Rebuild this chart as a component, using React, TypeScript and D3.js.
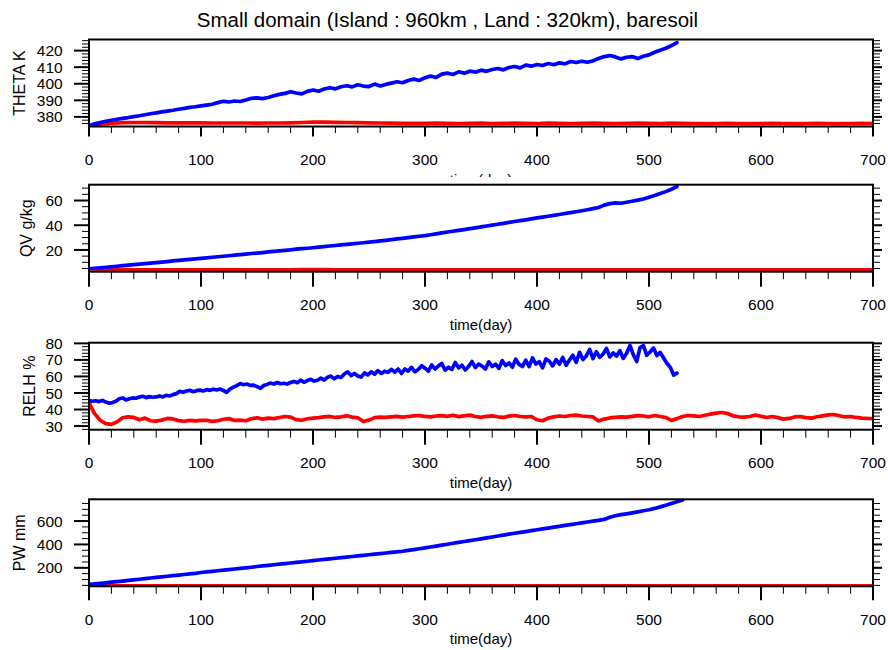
import React from "react";
import * as d3 from "d3";

// ---------- data ----------
const xTicks = [0, 100, 200, 300, 400, 500, 600, 700];
const thetaTicks = [380, 390, 400, 410, 420];
const qvTicks = [20, 40, 60];
const relhTicks = [30, 40, 50, 60, 70, 80];
const pwTicks = [200, 400, 600];

// THETA (K), blue every 5 days 0..525, red every 10 days 0..700
const thetaBlue = [374.5,375.8,376.6,377.4,378,378.6,379.1,379.6,380.2,380.7,381.3,381.9,382.4,383,383.5,384,384.6,385.1,385.7,386.1,386.6,387.1,387.6,388.6,389.4,389,389.6,389.3,390.2,391.2,391.5,391,391.7,392.8,393.6,394.2,395.2,394.4,393.9,395.4,396.2,395.5,396.8,397.6,396.9,398.2,398.8,398.1,399.4,398.6,398.3,399.8,398.6,399.6,400.4,401.2,400.6,402,402.8,402,403.6,404.6,403.8,405.8,406.4,405.6,407.2,406.4,407.6,407,408.2,407.5,408.6,409.2,408.4,409.8,410.4,409.6,411.2,410.6,411.6,411,412.2,411.5,412.6,412,413.4,412.8,413.6,413,413.8,415.2,416.4,417,416.2,415,416,416.4,415.2,416.6,417.4,419,420.2,421.4,423,424.8];
const thetaRed = [374.5,375.6,376.2,376.5,376.6,376.6,376.5,376.4,376.4,376.4,376.4,376.3,376.3,376.3,376.3,376.2,376.3,376.3,376.4,376.6,376.8,376.8,376.7,376.6,376.5,376.4,376.3,376.2,376.1,376.1,376.1,376.2,376.1,376,376.1,376.2,376,376.1,376.2,376.1,376,376.2,376.1,376,376.1,376.2,376.1,376,376.1,376.2,376.1,376,376.2,376.1,376,375.9,376,376.1,376,375.9,376,376.1,376,375.9,376,376.1,376,375.9,376,376.1,376];

// QV (g/kg)
const qvBlue = [4.8,5.2,5.6,6.0,6.4,6.8,7.3,7.7,8.1,8.5,8.9,9.4,9.8,10.2,10.6,11.1,11.5,11.9,12.4,12.8,13.2,13.6,14.1,14.5,14.9,15.3,15.8,16.2,16.6,17.1,17.5,17.9,18.4,18.8,19.3,19.7,20.1,20.6,21.0,21.4,21.8,22.3,22.7,23.2,23.6,24.1,24.5,24.9,25.4,25.8,26.3,26.8,27.3,27.8,28.4,28.9,29.4,30.0,30.6,31.1,31.6,32.3,33.0,33.8,34.5,35.1,35.8,36.5,37.2,37.9,38.7,39.4,40.1,40.8,41.5,42.3,43.0,43.7,44.4,45.1,45.9,46.6,47.3,48.0,48.7,49.5,50.2,50.9,51.7,52.5,53.4,54.4,56.3,57.5,58.1,57.8,58.6,59.4,60.3,61.2,62.6,64.0,65.6,67.2,69.1,71.3];
const qvRed = [4.8,4.3,4.1,4.0,3.9,3.9,3.9,3.8,3.8,3.9,3.9,3.8,3.8,3.9,3.9,3.8,3.9,3.9,3.9,4.0,4.0,4.0,3.9,3.9,3.9,3.9,3.9,3.9,3.8,3.9,3.9,3.9,3.9,3.8,3.9,3.9,3.9,3.9,3.9,3.9,3.9,3.9,3.9,3.8,3.9,3.9,3.8,3.9,3.9,3.9,3.9,3.9,3.9,3.9,3.8,3.8,3.9,3.9,3.9,3.9,3.8,3.9,3.9,3.8,3.9,3.9,3.9,3.8,3.9,3.9,3.9];

// RELH (%), blue every 3 days 0..525, red every 5 days 0..700
const relhBlue = [45.5,45,45.3,44.8,45.5,44.5,43.8,44.2,45,46.5,47,45.8,46.5,47,46.8,47.5,48,47.2,47.8,47.4,47.6,48.2,47.6,48.6,48.2,49,49.6,51,50.4,51.2,51.6,50.8,51.4,51.7,51.2,52,51.6,52.3,51.8,52.4,51.5,50.4,52.5,53.5,54.5,55.7,55,55.4,54.6,54.8,53.8,52.8,54.5,55.2,56,55.4,56.3,55.6,55.9,55.4,56.3,57,56.2,57.8,56.5,57.5,58.3,57.2,57.7,59,57.8,59.5,60.2,58.6,60,59.4,61.5,62.8,60.5,61.8,60.3,59.6,62.2,61,62.8,61.4,63.5,61.8,63.2,62.5,64.3,62.6,64.5,
  61.8,64.5,63.2,65.5,62.8,64.2,66.5,65,63.2,67,64.5,66.4,67.8,63.8,65.6,64.2,68.4,65.2,66.8,63.9,66.1,69,65.4,67.5,66.2,64.5,68.8,66,67.4,64.9,69.5,66.6,68.2,65.6,70.4,67.3,66,69.8,65.9,71.2,67.5,68.9,65.2,70.6,69.2,66.4,70.1,67.4,71.5,66.8,69.9,72.8,68.5,74.6,70.2,72.4,76.3,70.8,74.9,71.6,73.5,77,71.8,74.2,72.3,75.6,70.9,74,78.8,73.2,69,77.4,78.6,72.8,74.8,77.2,72.6,74.5,71.2,68,65.5,60.8,62];
const relhRed = [44,37.5,33.5,31.5,31,32.5,35,35.6,35.2,33.8,34.8,33.2,33,33.6,34.6,34.3,33.3,32.9,33.4,33.1,33.4,33.5,32.8,33.2,34.1,34.5,33.4,33.6,33.2,34.4,35,34.2,34.8,34.5,35.2,35.8,35.4,33.9,33.5,34.4,34.8,35.1,35.6,35.8,35.2,35.6,36.2,35.4,35,32.8,33.6,35.1,35.4,35.2,35.6,35.9,35.4,35.8,36.2,36.4,35.8,35.6,36.1,36.3,35.9,36.5,35.7,36.2,36.6,35.8,35.3,35.9,36.2,35.6,35.2,36,36.4,35.8,35.5,35.8,33.8,33.2,34.8,35.6,36.1,35.8,36.4,36.6,36.1,35.8,35.5,33.1,34.2,34.9,35.3,35.6,35.4,35.9,36.3,36.1,35.6,36.4,35.8,35.2,33.4,34.5,35.8,36.4,36.2,35.8,36.5,37.2,37.8,38.2,37.6,36.2,35.6,35.4,35.8,36.6,35.9,35.2,35.8,35.1,34.2,34.6,35.5,35.8,35.1,34.8,35.6,36.2,36.8,37,36.2,35.5,35.8,35.2,34.8,34.6,34.5];

// PW (mm)
const pwBlue = [57,62,67,72,77,82,87,92,97,102,108,113,118,123,128,133,138,143,148,153,160,165,170,175,180,185,190,195,200,205,211,216,221,226,231,236,241,246,251,256,262,267,272,277,282,287,292,297,302,307,312,317,322,327,332,337,342,349,356,363,370,378,386,394,402,410,418,425,432,440,448,456,464,472,480,488,496,503,510,518,526,533,540,548,555,563,570,577,585,592,599,606,614,632,645,655,662,670,679,688,697,708,721,735,750,765,781];
const pwRed = [57,50,47,46,45,45,45,45,45,45,45,45,45,45,45,45,45,45,45,46,46,46,45,45,45,45,45,45,45,45,45,45,45,45,45,45,45,45,45,45,45,45,45,45,45,45,45,45,45,45,45,45,45,45,45,45,45,45,45,45,45,45,45,45,45,45,45,45,45,45,45];

// ---------- layout ----------
const W = 888;
const H = 650;
const X0 = 89;
const X1 = 873;
const PH = 87;
const FONT = "'Liberation Sans', Arial, Helvetica, sans-serif";

type PanelCfg = {
  id: string;
  label: string;
  domain: [number, number];
  top: number;
  majors: number[];
  minorStep: number;
  minorStart: number;
  blue: number[];
  blueStep: number;
  red: number[];
  redStep: number;
  xMajorLen: number;
  xMinorLen: number;
  ylabelX: number;
  clipXLabel: boolean;
};

const panels: PanelCfg[] = [
  { id: "p1", label: "THETA K", domain: [374.2, 426.7], top: 39.5, majors: thetaTicks, minorStep: 2, minorStart: 376, blue: thetaBlue, blueStep: 5, red: thetaRed, redStep: 10, xMajorLen: 10, xMinorLen: 6.5, ylabelX: 25, clipXLabel: true },
  { id: "p2", label: "QV g/kg", domain: [2.4, 72.8], top: 184.7, majors: qvTicks, minorStep: 5, minorStart: 5, blue: qvBlue, blueStep: 5, red: qvRed, redStep: 10, xMajorLen: 15, xMinorLen: 7.5, ylabelX: 32, clipXLabel: false },
  { id: "p3", label: "RELH %", domain: [27.8, 80.4], top: 342.7, majors: relhTicks, minorStep: 2, minorStart: 28, blue: relhBlue, blueStep: 3, red: relhRed, redStep: 5, xMajorLen: 15, xMinorLen: 8, ylabelX: 35, clipXLabel: false },
  { id: "p4", label: "PW mm", domain: [42, 786], top: 499.3, majors: pwTicks, minorStep: 50, minorStart: 50, blue: pwBlue, blueStep: 5, red: pwRed, redStep: 10, xMajorLen: 14, xMinorLen: 7.5, ylabelX: 25, clipXLabel: false },
];

function Panel({ cfg }: { cfg: PanelCfg }) {
  const x = d3.scaleLinear().domain([0, 700]).range([X0, X1]);
  const y = d3.scaleLinear().domain(cfg.domain).range([cfg.top + PH, cfg.top]);
  const bottom = cfg.top + PH;
  const mkLine = (step: number) =>
    d3.line<number>().x((_, i) => x(i * step)).y((d) => y(d));
  const xMinors = d3.range(0, 701, 20).filter((v) => v % 100 !== 0);
  const yMinors = d3
    .range(cfg.minorStart, cfg.domain[1], cfg.minorStep)
    .filter((v) => v >= cfg.domain[0] && !cfg.majors.includes(v));
  const clipId = `clip-${cfg.id}`;
  const lblClip = `lbl-${cfg.id}`;
  return (
    <g>
      <defs>
        <clipPath id={clipId}>
          <rect x={X0} y={cfg.top} width={X1 - X0} height={PH} />
        </clipPath>
        <clipPath id={lblClip}>
          <rect x={0} y={0} width={W} height={bottom + 50.5} />
        </clipPath>
      </defs>
      {yMinors.map((v) => (
        <g key={`ym${v}`}>
          <line x1={X0 - 7} x2={X0} y1={y(v)} y2={y(v)} stroke="#000" strokeWidth={1} />
          <line x1={X1} x2={X1 + 7} y1={y(v)} y2={y(v)} stroke="#000" strokeWidth={1} />
        </g>
      ))}
      {cfg.majors.map((v) => (
        <g key={`yM${v}`}>
          <line x1={X0 - 15} x2={X0} y1={y(v)} y2={y(v)} stroke="#000" strokeWidth={2} />
          <line x1={X1} x2={X1 + 9} y1={y(v)} y2={y(v)} stroke="#000" strokeWidth={2} />
          <text x={62.7} y={y(v)} dy="0.36em" textAnchor="end" fontSize={15.5} fontFamily={FONT} fill="#000">
            {v}
          </text>
        </g>
      ))}
      {xMinors.map((v) => (
        <line key={`xm${v}`} x1={x(v)} x2={x(v)} y1={bottom} y2={bottom + cfg.xMinorLen} stroke="#000" strokeWidth={1} />
      ))}
      {xTicks.map((v) => (
        <g key={`xM${v}`}>
          <line x1={x(v)} x2={x(v)} y1={bottom} y2={bottom + cfg.xMajorLen} stroke="#000" strokeWidth={2} />
          <text x={x(v)} y={bottom + 38.5} textAnchor="middle" fontSize={15.5} fontFamily={FONT} fill="#000">
            {v}
          </text>
        </g>
      ))}
      <text
        x={(X0 + X1) / 2}
        y={bottom + 58}
        textAnchor="middle"
        fontSize={15}
        fontFamily={FONT}
        fill="#000"
        clipPath={cfg.clipXLabel ? `url(#${lblClip})` : undefined}
      >
        time(day)
      </text>
      <text
        transform={`translate(${cfg.ylabelX},${cfg.top + PH / 2}) rotate(-90)`}
        textAnchor="middle"
        fontSize={16}
        fontFamily={FONT}
        fill="#000"
      >
        {cfg.label}
      </text>
      <g clipPath={`url(#${clipId})`}>
        <path d={mkLine(cfg.redStep)(cfg.red) || ""} fill="none" stroke="#ff0000" strokeWidth={3.7} strokeLinejoin="round" strokeLinecap="round" />
        <path d={mkLine(cfg.blueStep)(cfg.blue) || ""} fill="none" stroke="#0000ff" strokeWidth={3.7} strokeLinejoin="round" strokeLinecap="round" />
      </g>
      <rect x={X0} y={cfg.top} width={X1 - X0} height={PH} fill="none" stroke="#000" strokeWidth={2} />
    </g>
  );
}

export default function App() {
  return (
    <svg
      width={W}
      height={H}
      viewBox={`0 0 ${W} ${H}`}
      style={{ position: "absolute", left: 0, top: 0, background: "#fff" }}
    >
      <rect x={0} y={0} width={W} height={H} fill="#fff" />
      <text x={447.5} y={26.5} textAnchor="middle" fontSize={20.5} fontFamily={FONT} fill="#000">
        Small domain (Island : 960km , Land : 320km), baresoil
      </text>
      {panels.map((p) => (
        <Panel key={p.id} cfg={p} />
      ))}
    </svg>
  );
}
